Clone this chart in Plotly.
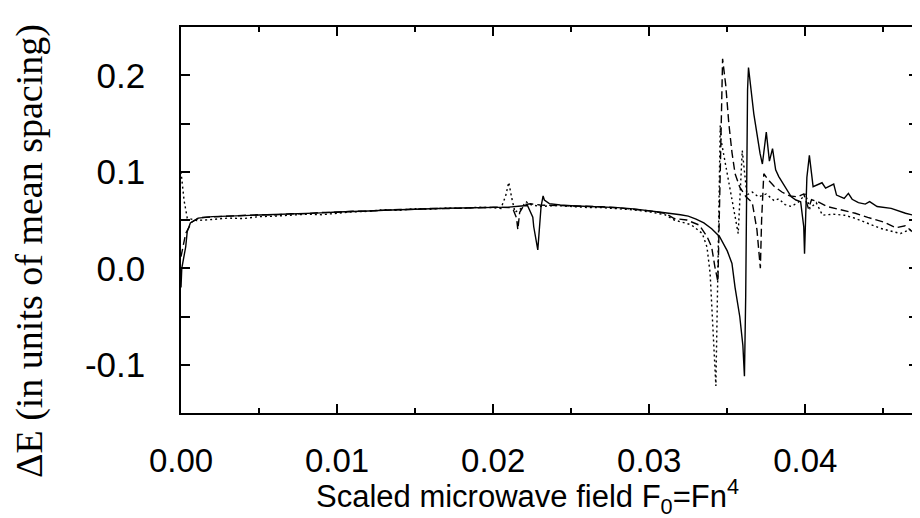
import plotly.graph_objects as go

# ---------------- data ----------------
solid_x = [0.0, 0.00005, 0.0003, 0.0004, 0.0006, 0.0011, 0.002, 0.003, 0.004, 0.005,
           0.006, 0.007, 0.008, 0.009, 0.010, 0.011, 0.012, 0.013, 0.014, 0.015,
           0.016, 0.017, 0.018, 0.019, 0.020, 0.021, 0.0218, 0.0222, 0.02254, 0.0226,
           0.02286, 0.02296, 0.02307, 0.0232, 0.02328, 0.0236, 0.0243, 0.025, 0.026, 0.027,
           0.028, 0.029, 0.030, 0.031, 0.032, 0.0325, 0.033, 0.0335, 0.034, 0.0345,
           0.035, 0.0353, 0.0355, 0.0358, 0.0360, 0.0361, 0.03618, 0.03625, 0.0363, 0.03636,
           0.0367, 0.0371, 0.03725, 0.0375, 0.0377, 0.0379, 0.0381, 0.0383, 0.0387, 0.0391,
           0.0394, 0.0397, 0.0399, 0.03995, 0.0401, 0.04026, 0.0404, 0.0405, 0.04107, 0.0413,
           0.04182, 0.0420, 0.04249, 0.04276, 0.0430, 0.0434, 0.04384, 0.04412, 0.0446, 0.0455,
           0.04642, 0.0474]
solid_y = [-0.020, 0.000, 0.022, 0.038, 0.047, 0.052, 0.0535, 0.0538, 0.0545, 0.0552,
           0.0556, 0.0561, 0.0570, 0.0574, 0.0583, 0.0586, 0.0594, 0.0601, 0.0604, 0.0612,
           0.0616, 0.0621, 0.0624, 0.0628, 0.0630, 0.0633, 0.0645, 0.0650, 0.053, 0.043,
           0.019, 0.045, 0.064, 0.075, 0.0707, 0.067, 0.0655, 0.0648, 0.0642, 0.0636,
           0.0628, 0.0615, 0.0598, 0.0575, 0.0555, 0.054, 0.051, 0.047, 0.041, 0.033,
           0.018, 0.005, -0.020, -0.050, -0.080, -0.112, -0.030, 0.100, 0.185, 0.208,
           0.160, 0.119, 0.108, 0.141, 0.111, 0.124, 0.102, 0.095, 0.0845, 0.074,
           0.0707, 0.069, 0.043, 0.015, 0.094, 0.117, 0.098, 0.0845, 0.0886, 0.083,
           0.0872, 0.0758, 0.0724, 0.0776, 0.0715, 0.068, 0.0665, 0.069, 0.064, 0.062,
           0.057, 0.053]

dashed_x = [0.0, 0.0003, 0.0007, 0.0012, 0.002, 0.003, 0.004, 0.005, 0.006, 0.007,
            0.008, 0.009, 0.010, 0.011, 0.012, 0.013, 0.014, 0.015, 0.016, 0.017,
            0.018, 0.019, 0.020, 0.0210, 0.0213, 0.0215, 0.02158, 0.0217, 0.0220, 0.0224,
            0.0230, 0.0240, 0.025, 0.026, 0.027, 0.028, 0.029, 0.030, 0.031, 0.0316,
            0.0324, 0.0332, 0.0337, 0.0340, 0.0342, 0.0344, 0.03455, 0.0347, 0.0349, 0.0351,
            0.0353, 0.0355, 0.0358, 0.0362, 0.0366, 0.0369, 0.03712, 0.0372, 0.03734, 0.0376,
            0.0380, 0.0385, 0.0390, 0.0395, 0.0399, 0.0402, 0.0404, 0.0408, 0.0414, 0.0425,
            0.0432, 0.0440, 0.0450, 0.0458, 0.0464, 0.0470, 0.0474]
dashed_y = [0.012, 0.036, 0.048, 0.0525, 0.0532, 0.0541, 0.0543, 0.0555, 0.0553, 0.0564,
            0.0566, 0.0578, 0.0580, 0.0591, 0.0592, 0.0603, 0.0609, 0.0610, 0.0619, 0.0618,
            0.0626, 0.0627, 0.0632, 0.0630, 0.0600, 0.0520, 0.040, 0.058, 0.066, 0.0668,
            0.0655, 0.0652, 0.0646, 0.0640, 0.0637, 0.0626, 0.0612, 0.0595, 0.0570, 0.0515,
            0.0500, 0.0448, 0.0330, 0.0220, 0.0020, -0.0140, 0.100, 0.217, 0.190, 0.150,
            0.120, 0.098, 0.084, 0.074, 0.068, 0.040, 0.000, 0.050, 0.098, 0.092,
            0.085, 0.079, 0.075, 0.074, 0.077, 0.062, 0.071, 0.069, 0.064, 0.0596,
            0.057, 0.0527, 0.048, 0.042, 0.044, 0.036, 0.042]

dotted_x = [0.0, 0.0002, 0.0004, 0.001, 0.002, 0.003, 0.004, 0.005, 0.006, 0.007,
            0.008, 0.009, 0.010, 0.011, 0.012, 0.013, 0.014, 0.015, 0.016, 0.017,
            0.018, 0.019, 0.020, 0.0205, 0.0208, 0.0210, 0.0212, 0.0214, 0.0218, 0.0221,
            0.0224, 0.0230, 0.024, 0.025, 0.026, 0.027, 0.028, 0.029, 0.030, 0.031,
            0.0316, 0.0327, 0.0334, 0.0337, 0.0339, 0.0340, 0.0342, 0.03427, 0.0344, 0.03455,
            0.0346, 0.0357, 0.03596, 0.0362, 0.03626, 0.0366, 0.0370, 0.0375, 0.0380, 0.0383,
            0.0387, 0.0391, 0.0396, 0.0400, 0.0403, 0.0407, 0.0411, 0.0418, 0.0425, 0.0432,
            0.0440, 0.0448, 0.0461, 0.0467, 0.0470, 0.0474]
dotted_y = [0.100, 0.070, 0.052, 0.0495, 0.0505, 0.0520, 0.0515, 0.0535, 0.0540, 0.0548,
            0.0560, 0.0555, 0.0572, 0.0585, 0.0590, 0.0608, 0.0600, 0.0618, 0.0612, 0.0625,
            0.0620, 0.0632, 0.0628, 0.0620, 0.0750, 0.0890, 0.0720, 0.0580, 0.0620, 0.0690,
            0.0660, 0.0640, 0.0650, 0.0640, 0.0630, 0.0628, 0.0618, 0.0605, 0.0585, 0.0555,
            0.0500, 0.0450, 0.0360, 0.0220, -0.005, -0.040, -0.100, -0.122, 0.000, 0.148,
            0.133, 0.036, 0.122, 0.084, 0.076, 0.079, 0.074, 0.077, 0.070, 0.072,
            0.066, 0.064, 0.069, 0.077, 0.062, 0.068, 0.055, 0.056, 0.055, 0.0517,
            0.0465, 0.0414, 0.036, 0.040, 0.033, 0.038]

x_tick_vals = [0.00, 0.01, 0.02, 0.03, 0.04]
x_tick_text = ["0.00", "0.01", "0.02", "0.03", "0.04"]
y_tick_vals = [-0.1, 0.0, 0.1, 0.2]
y_tick_text = ["-0.1", "0.0", "0.1", "0.2"]

x_title = "Scaled microwave field F<sub>0</sub>=Fn<sup>4</sup>"
y_title = "ΔE (in units of mean spacing)"

# ---------------- figure ----------------
fig = go.Figure()
line_w = 1.4
fig.add_trace(go.Scatter(x=dotted_x, y=dotted_y, mode="lines",
                         line=dict(color="black", width=line_w, dash="2px,3px")))
fig.add_trace(go.Scatter(x=dashed_x, y=dashed_y, mode="lines",
                         line=dict(color="black", width=line_w, dash="8px,4px")))
fig.add_trace(go.Scatter(x=solid_x, y=solid_y, mode="lines",
                         line=dict(color="black", width=line_w)))

axis_common = dict(showline=True, linecolor="black", linewidth=1.5, mirror="ticks",
                   ticks="inside", tickcolor="black", tickwidth=1.5, showgrid=False,
                   zeroline=False)

fig.update_xaxes(range=[0, 0.04722], tickvals=x_tick_vals, ticktext=x_tick_text,
                 ticklen=9,
                 minor=dict(ticks="inside", ticklen=5, dtick=0.005, tick0=0,
                            tickcolor="black", tickwidth=1.5),
                 tickfont=dict(family="Liberation Sans, Arial", size=33, color="black"),
                 ticklabelstandoff=18,
                 **axis_common)
fig.update_yaxes(range=[-0.15, 0.25], tickvals=y_tick_vals, ticktext=y_tick_text,
                 ticklen=9,
                 minor=dict(ticks="inside", ticklen=9, dtick=0.05, tick0=0,
                            tickcolor="black", tickwidth=1.5),
                 tickfont=dict(family="Liberation Sans, Arial", size=35, color="black"),
                 ticklabelstandoff=27,
                 **axis_common)

# the page body adds an 8px offset, so the figure is sized 912x510 to fill the 920x518 window
fig.add_annotation(text=x_title, xref="paper", yref="paper", x=0.47, y=0,
                   yshift=-83, xanchor="center", yanchor="middle", showarrow=False,
                   font=dict(family="Liberation Sans, Arial", size=31, color="black"))
fig.add_annotation(text=y_title, xref="paper", yref="paper", x=0, y=0.5,
                   xshift=-152, yshift=-31, xanchor="center", yanchor="middle",
                   textangle=-90, showarrow=False, borderpad=0,
                   font=dict(family="Liberation Serif, Times New Roman", size=38, color="black"))

fig.update_layout(width=912, height=510, margin=dict(l=173, r=0, t=19, b=105),
                  paper_bgcolor="white", plot_bgcolor="white", showlegend=False)

fig.write_html("out.html")
